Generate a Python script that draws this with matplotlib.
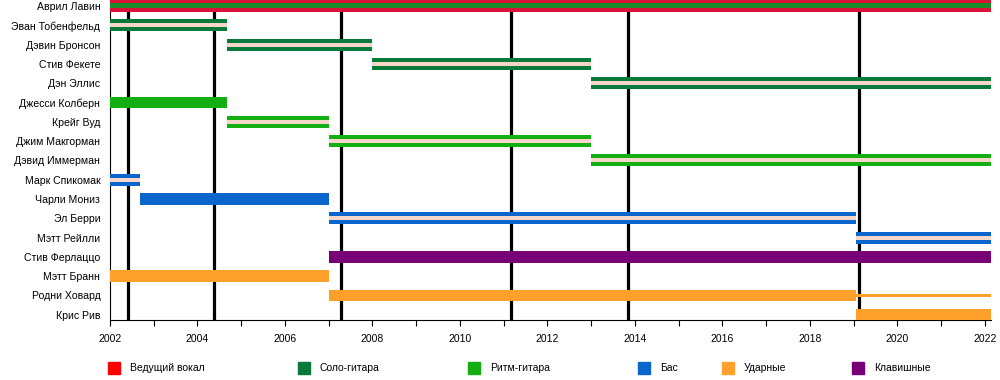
import matplotlib
matplotlib.use('Agg')
import matplotlib.pyplot as plt
from matplotlib.patches import Rectangle
from matplotlib.ticker import MultipleLocator

plt.rcParams['font.family'] = ['Liberation Sans', 'DejaVu Sans']

# ---- data ----
END = 2022.14
members = ['Аврил Лавин', 'Эван Тобенфельд', 'Дэвин Бронсон', 'Стив Фекете', 'Дэн Эллис',
           'Джесси Колберн', 'Крейг Вуд', 'Джим Макгорман', 'Дэвид Иммерман',
           'Марк Спикомак', 'Чарли Мониз', 'Эл Берри', 'Мэтт Рейлли',
           'Стив Ферлаццо', 'Мэтт Бранн', 'Родни Ховард', 'Крис Рив']
starts = [2002.0, 2002.0, 2004.67, 2008.0, 2013.0,
          2002.0, 2004.67, 2007.0, 2013.0,
          2002.0, 2002.69, 2007.0, 2019.05,
          2007.0, 2002.0, 2007.0, 2019.05]
ends = [END, 2004.67, 2008.0, 2013.0, END,
        2004.67, 2007.0, 2013.0, END,
        2002.69, 2007.0, 2019.05, END,
        END, 2007.0, 2019.05, END]
roles = ['vocal', 'lead', 'lead', 'lead', 'lead',
         'rhythm', 'rhythm', 'rhythm', 'rhythm',
         'bass', 'bass', 'bass', 'bass',
         'keys', 'drums', 'drums', 'drums']
backing = [False, True, True, True, True,
           False, True, True, True,
           True, False, True, True,
           False, False, False, False]

# Родни Ховард, second period (thin line)
thin_member = 'Родни Ховард'
thin_start, thin_end = 2019.05, END

albums = [2002.41, 2004.38, 2007.29, 2011.17, 2013.84, 2019.12]

role_names = ['Ведущий вокал', 'Соло-гитара', 'Ритм-гитара', 'Бас', 'Ударные', 'Клавишные']
role_keys = ['vocal', 'lead', 'rhythm', 'bass', 'drums', 'keys']
colors = {'vocal': '#FF0000', 'lead': '#0A7A3A', 'rhythm': '#12AE12',
          'bass': '#0A66CC', 'drums': '#FFA02A', 'keys': '#770077'}
bar_colors = dict(colors, vocal='#DA1238')
stripe_color = '#F6D6C8'
avril_stripe = '#1C8C28'

# ---- plot ----
fig = plt.figure(figsize=(10, 3.8), dpi=100)
ax = fig.add_axes([0.11, 1 - 320 / 380, 0.881, 320 / 380])

h = 0.62
for i, name in enumerate(members):
    w = ends[i] - starts[i]
    ax.barh(i, w, left=starts[i], height=h, color=bar_colors[roles[i]], zorder=3, linewidth=0)
    if backing[i]:
        ax.barh(i, w, left=starts[i], height=h / 3, color=stripe_color, zorder=4, linewidth=0)
    if i == 0:
        ax.barh(i, w, left=starts[i], height=0.26, color=avril_stripe, zorder=4, linewidth=0)

ti = members.index(thin_member)
ax.barh(ti, thin_end - thin_start, left=thin_start, height=0.17,
        color=colors[roles[ti]], zorder=3, linewidth=0)

for a in albums:
    ax.axvline(a, color='black', lw=2.3, zorder=2)

ax.set_xlim(2002, END)
ax.set_ylim(16.27, -0.31)
ax.set_yticks(range(len(members)))
ax.set_yticklabels(members, fontsize=7.6)
ax.tick_params(axis='y', length=0, pad=7)
ax.xaxis.set_major_locator(MultipleLocator(2))
ax.xaxis.set_minor_locator(MultipleLocator(1))
ax.tick_params(axis='x', which='both', length=4, width=0.8, labelsize=7.5, pad=6)
for s in ['top', 'right']:
    ax.spines[s].set_visible(False)
ax.spines['left'].set_linewidth(0.8)
ax.spines['bottom'].set_linewidth(0.8)

# legend drawn by hand
leg_x = [108, 298, 468, 638, 722, 852]
for x, key, label in zip(leg_x, role_keys, role_names):
    fig.patches.append(Rectangle((x / 1000, 1 - 374 / 380), 12 / 1000, 12 / 380,
                                 transform=fig.transFigure, color=colors[key]))
    fig.text((x + 22) / 1000, 1 - 368 / 380, label, fontsize=7.5, va='center')

fig.savefig('out.png', dpi=100)
